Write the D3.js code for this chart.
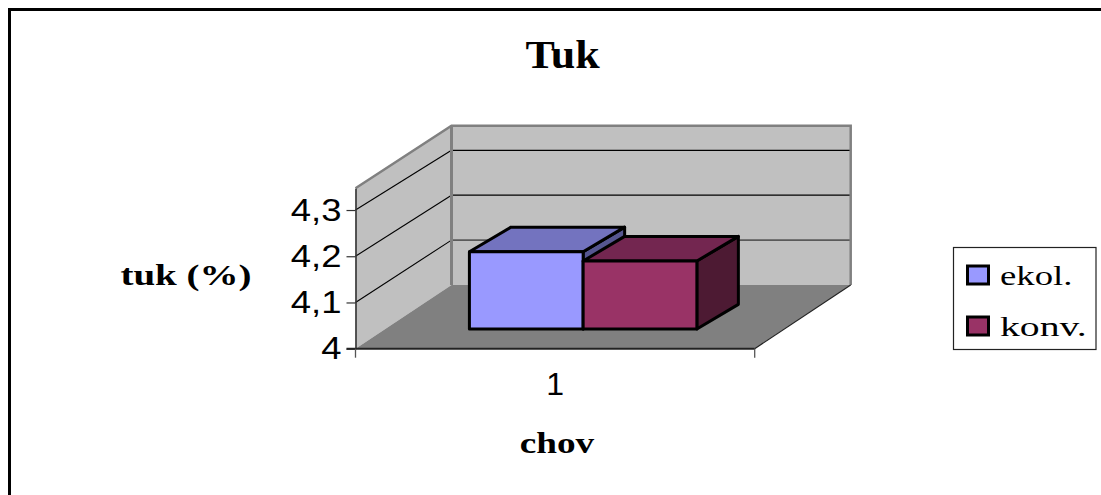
<!DOCTYPE html>
<html>
<head>
<meta charset="utf-8">
<script src="https://cdn.jsdelivr.net/npm/d3@7"></script>
<style>
  html, body { margin: 0; padding: 0; background: #fff; overflow: hidden; }
  svg { display: block; }
  .serif { font-family: "Liberation Serif", serif; fill: #000; }
  .sans { font-family: "Liberation Sans", sans-serif; fill: #000; }
</style>
</head>
<body>
<div id="chart"></div>
<script>
// data
var categories = ["1"];
var seriesNames = ["ekol.", "konv."];
var seriesValues = [4.167, 4.147];
var tickValues = [4, 4.1, 4.2, 4.3];
var axisMin = 4, axisMax = 4.347;

var faceColors = ["#9999ff", "#993366"];
var topColors = ["#7373bf", "#732650"];
var sideColors = ["#565690", "#4d1a33"];

var width = 1101, height = 495;

// box of the 3d plot: front plane and how far the back wall is shifted
var left = 355.5, right = 754.7, floorFront = 348.7, floorBack = 285;
var depthX = 96, depthY = floorFront - floorBack;
var wallTop = 125.7;
// where the bars stand in the depth of the floor and how deep they are
var barZ = 0.31, barDx = 41.5, barDy = 24.6;

var svg = d3.select("#chart").append("svg")
    .attr("width", width)
    .attr("height", height);

var y = d3.scaleLinear().domain([axisMin, axisMax]).range([floorFront, 188.3]);
// the back wall does not quite line up with the front one in the original
var yBack = d3.scaleLinear().domain([axisMin, 4.3, axisMax]).range([floorBack, 150.3, wallTop]);
var xCat = d3.scaleBand().domain(categories).range([left, right]);
var xBar = d3.scaleBand().domain(seriesNames).range([left, right])
    .paddingInner(0).paddingOuter(0.755).align(0.49);

// stretch a text horizontally, the original is wider than the font
function stretch(sel, factor) {
    sel.each(function() {
        var len = this.getComputedTextLength();
        d3.select(this)
            .attr("textLength", len * factor)
            .attr("lengthAdjust", "spacingAndGlyphs");
    });
}

function poly(points, fill, stroke, sw) {
    return svg.append("polygon")
        .attr("points", points.map(function(p) { return p.join(","); }).join(" "))
        .attr("fill", fill)
        .attr("stroke", stroke || "none")
        .attr("stroke-width", sw || 0)
        .attr("stroke-linejoin", "round");
}

// outer frame, right and bottom edge are cut off by the picture
svg.append("rect")
    .attr("x", 9.5).attr("y", 9.5)
    .attr("width", width + 20).attr("height", height + 20)
    .attr("fill", "#fff")
    .attr("stroke", "#000")
    .attr("stroke-width", 3);

/*** walls and floor ***/
var backLeft = left + depthX, backRight = right + depthX;

poly([[left, floorFront], [left, y(axisMax)], [backLeft, wallTop], [backLeft, floorBack]], "#c0c0c0");
poly([[backLeft, floorBack], [backLeft, wallTop], [backRight, wallTop], [backRight, floorBack]], "#c0c0c0");
poly([[left, floorFront], [backLeft, floorBack], [backRight, floorBack], [right, floorFront]], "#808080");

// gridlines on both walls
tickValues.slice(1).forEach(function(v, i) {
    svg.append("line")
        .attr("x1", left).attr("y1", y(v))
        .attr("x2", backLeft).attr("y2", yBack(v))
        .attr("stroke", "#000").attr("stroke-width", 1.1);
    svg.append("line")
        .attr("x1", backLeft).attr("y1", yBack(v))
        .attr("x2", backRight).attr("y2", yBack(v))
        .attr("stroke", i == 0 ? "#5a5a5a" : "#000")
        .attr("stroke-width", i == 0 ? 1.6 : 1.2);
});

// gray wall borders
svg.append("path")
    .attr("d", "M" + left + "," + y(axisMax) + "L" + backLeft + "," + wallTop + "L" + backRight + "," + wallTop + "L" + backRight + "," + floorBack)
    .attr("fill", "none").attr("stroke", "#808080").attr("stroke-width", 2.5);
svg.append("line")
    .attr("x1", backLeft).attr("y1", wallTop)
    .attr("x2", backLeft).attr("y2", floorBack)
    .attr("stroke", "#808080").attr("stroke-width", 3);
svg.append("line")
    .attr("x1", backRight).attr("y1", floorBack)
    .attr("x2", right).attr("y2", floorFront)
    .attr("stroke", "#222").attr("stroke-width", 1.2);

/*** bars ***/
seriesNames.forEach(function(name, i) {
    var z = barZ;
    var x0 = xBar(name) + z * depthX, x1 = x0 + xBar.bandwidth();
    var yBase = y(axisMin) - z * depthY;
    var yTop = y(seriesValues[i]) - z * depthY;
    poly([[x1, yBase], [x1, yTop], [x1 + barDx, yTop - barDy], [x1 + barDx, yBase - barDy]], sideColors[i], "#000", 3);
    poly([[x0, yTop], [x0 + barDx, yTop - barDy], [x1 + barDx, yTop - barDy], [x1, yTop]], topColors[i], "#000", 3);
    poly([[x0, yBase], [x0, yTop], [x1, yTop], [x1, yBase]], faceColors[i], "#000", 3);
});

/*** axes ***/
var yAxis = d3.axisLeft(y)
    .tickValues(tickValues)
    .tickSizeInner(9)
    .tickSizeOuter(0)
    .tickPadding(5)
    .tickFormat(function(d) { return String(d).replace(".", ","); });

var yG = svg.append("g")
    .attr("transform", "translate(" + left + ",0)")
    .call(yAxis);
yG.select(".domain").attr("stroke", "#333").attr("stroke-width", 1.6);
yG.selectAll(".tick line").attr("stroke", "#333").attr("stroke-width", 1.2);
yG.selectAll(".tick text")
    .attr("class", "sans")
    .style("font-size", "32px")
    .call(stretch, 1.14);

// front edge of the floor with its end ticks
svg.append("line")
    .attr("x1", left - 9).attr("y1", floorFront)
    .attr("x2", right).attr("y2", floorFront)
    .attr("stroke", "#222").attr("stroke-width", 2);
[left, right].forEach(function(xp) {
    svg.append("line")
        .attr("x1", xp).attr("y1", floorFront)
        .attr("x2", xp).attr("y2", floorFront + 9)
        .attr("stroke", "#555").attr("stroke-width", 1.3);
});

svg.selectAll(".cat-label")
    .data(categories)
    .enter().append("text")
    .attr("class", "sans cat-label")
    .attr("x", function(d) { return xCat(d) + xCat.bandwidth() / 2; })
    .attr("y", 395)
    .attr("text-anchor", "middle")
    .style("font-size", "32px")
    .text(function(d) { return d; });

/*** titles ***/
svg.append("text")
    .attr("class", "serif")
    .attr("x", 562.5).attr("y", 68)
    .attr("text-anchor", "middle")
    .style("font-size", "40px").style("font-weight", "bold")
    .text("Tuk")
    .call(stretch, 1.1);

svg.append("text")
    .attr("class", "serif")
    .attr("x", 186).attr("y", 285)
    .attr("text-anchor", "middle")
    .style("font-size", "30px").style("font-weight", "bold")
    .text("tuk (%)")
    .call(stretch, 1.3);

svg.append("text")
    .attr("class", "serif")
    .attr("x", 557).attr("y", 453)
    .attr("text-anchor", "middle")
    .style("font-size", "30px").style("font-weight", "bold")
    .text("chov")
    .call(stretch, 1.24);

/*** legend ***/
var legend = svg.append("g");
legend.append("rect")
    .attr("x", 953.5).attr("y", 247.5)
    .attr("width", 142.5).attr("height", 102)
    .attr("fill", "#fff")
    .attr("stroke", "#222").attr("stroke-width", 1.2);

var legendY = d3.scalePoint().domain(seriesNames).range([275, 326]);
var legendStretch = [1.36, 1.47];

seriesNames.forEach(function(name, i) {
    legend.append("rect")
        .attr("x", 967.5).attr("y", legendY(name) - 9)
        .attr("width", 21).attr("height", 18)
        .attr("fill", faceColors[i])
        .attr("stroke", "#000").attr("stroke-width", 3);
    legend.append("text")
        .attr("class", "serif")
        .attr("x", 1000).attr("y", legendY(name) + 10)
        .style("font-size", "27px")
        .text(name)
        .call(stretch, legendStretch[i]);
});
</script>
</body>
</html>
